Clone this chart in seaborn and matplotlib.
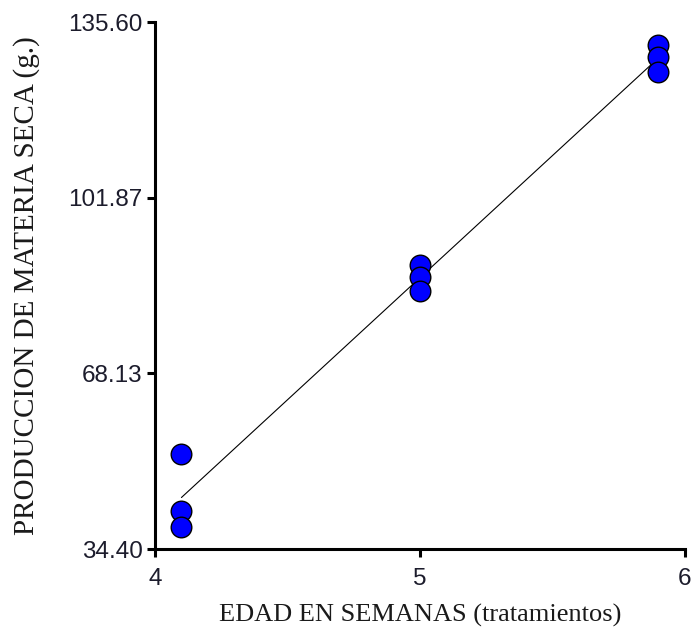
import numpy as np
import pandas as pd
import seaborn as sns
import matplotlib.pyplot as plt

# --- Data ---
edad = [4.1, 4.1, 4.1, 5.0, 5.0, 5.0, 5.9, 5.9, 5.9]            # weeks (treatments)
materia_seca = [52.6, 41.7, 38.6, 88.9, 86.6, 84.0, 131.2, 128.9, 126.0]  # g
x_ticks = [4, 5, 6]
y_min, y_max = 34.40, 135.60

df = pd.DataFrame({"edad": edad, "materia_seca": materia_seca})

sns.set_style("white")
plt.rcParams['font.family'] = ['Liberation Sans', 'DejaVu Sans']

fig = plt.figure(figsize=(6.98, 6.34), dpi=100)
ax = fig.add_axes([0.222, 0.134, 0.759, 0.831])

# regression line first, markers on top
sns.regplot(x="edad", y="materia_seca", data=df, ci=None, scatter=False, truncate=True,
            line_kws={"color": "black", "linewidth": 0.8, "zorder": 1}, ax=ax)
sns.scatterplot(x="edad", y="materia_seca", data=df, s=220, color="#0000FF",
                edgecolor="black", linewidth=1.0, zorder=3, ax=ax)

ax.set_xlim(4, 6)
ax.set_ylim(y_min, y_max)
ax.set_xticks(x_ticks)
ax.set_xticklabels([str(t) for t in x_ticks])
y_ticks = np.linspace(y_min, y_max, 4)
ax.set_yticks(y_ticks)
ax.set_yticklabels([f"{t:.2f}" for t in y_ticks])

for side in ["top", "right"]:
    ax.spines[side].set_visible(False)
for side in ["left", "bottom"]:
    ax.spines[side].set_linewidth(2.2)
    ax.spines[side].set_color("black")

ax.tick_params(axis="both", direction="out", length=6, width=2.2, color="black",
               labelsize=17.5, labelcolor="#1c1c2c", left=True, bottom=True)
ax.tick_params(axis="x", pad=8)
ax.tick_params(axis="y", pad=3)

ax.set_xlabel("EDAD EN SEMANAS (tratamientos)", family="Liberation Serif",
              fontsize=19, color="#1a1a1a", labelpad=10)
ax.set_ylabel("PRODUCCION DE MATERIA SECA (g.)", family="Liberation Serif",
              fontsize=21, color="#1a1a1a", labelpad=20)

fig.savefig("out.png", dpi=100)
